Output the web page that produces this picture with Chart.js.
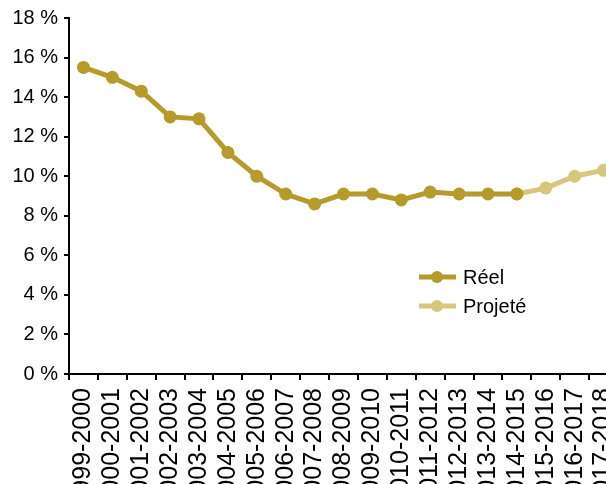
<!DOCTYPE html>
<html>
<head>
<meta charset="utf-8">
<script src="https://cdn.jsdelivr.net/npm/chart.js@4/dist/chart.umd.min.js"></script>
<style>
  html, body { margin: 0; padding: 0; background: #fff; overflow: hidden; }
  #wrap { width: 618px; height: 520px; }
</style>
</head>
<body>
<div id="wrap"><canvas id="chart" width="618" height="520"></canvas></div>
<script>
const years = ['1999-2000', '2000-2001', '2001-2002', '2002-2003', '2003-2004', '2004-2005',
    '2005-2006', '2006-2007', '2007-2008', '2008-2009', '2009-2010', '2010-2011',
    '2011-2012', '2012-2013', '2013-2014', '2014-2015', '2015-2016', '2016-2017', '2017-2018'];
const reel = [15.5, 15.0, 14.3, 13.0, 12.9, 11.2, 10.0, 9.1, 8.6, 9.1, 9.1, 8.8,
    9.2, 9.1, 9.1, 9.1, null, null, null];
const projete = [null, null, null, null, null, null, null, null, null, null, null, null,
    null, null, null, 9.1, 9.4, 10.0, 10.3];
const seriesNames = ['Réel', 'Projeté'];
const yTicks = [0, 2, 4, 6, 8, 10, 12, 14, 16, 18];

const sans = '"Liberation Sans", Arial, sans-serif';

// legend drawn inside the plot, like the original
const insideLegend = {
    id: 'insideLegend',
    afterDraw(chart) {
        const ctx = chart.ctx;
        chart.data.datasets.forEach((ds, i) => {
            const y = 277 + i * 29;
            ctx.save();
            ctx.strokeStyle = ds.borderColor;
            ctx.lineWidth = 5;
            ctx.beginPath();
            ctx.moveTo(419, y);
            ctx.lineTo(456, y);
            ctx.stroke();
            ctx.fillStyle = ds.backgroundColor;
            ctx.beginPath();
            ctx.arc(437, y, 6, 0, Math.PI * 2);
            ctx.fill();
            ctx.fillStyle = '#000';
            ctx.font = '20px ' + sans;
            ctx.textBaseline = 'middle';
            ctx.fillText(ds.label, 463, y + 1);
            ctx.restore();
        });
    }
};

new Chart(document.getElementById('chart'), {
    type: 'line',
    data: {
        labels: years,
        datasets: [
            {
                label: seriesNames[0],
                data: reel,
                borderColor: '#B49B2B',
                backgroundColor: '#B49B2B',
                borderWidth: 5,
                pointRadius: 6.5,
                pointBorderWidth: 0,
            },
            {
                label: seriesNames[1],
                data: projete,
                borderColor: '#D7C77B',
                backgroundColor: '#D7C77B',
                borderWidth: 5,
                pointRadius: 6.5,
                pointBorderWidth: 0,
            },
        ],
    },
    options: {
        responsive: false,
        animation: false,
        layout: { autoPadding: false, padding: { top: 18, right: 0, left: 0, bottom: 0 } },
        plugins: {
            legend: { display: false },
            tooltip: { enabled: false },
        },
        scales: {
            x: {
                offset: true,
                grid: { offset: true, drawOnChartArea: false, tickLength: 6, color: '#000', lineWidth: 2 },
                border: { color: '#000', width: 2 },
                ticks: {
                    minRotation: 90,
                    maxRotation: 90,
                    autoSkip: false,
                    padding: 8,
                    color: '#000',
                    font: { family: sans, size: 25 },
                },
                afterFit: scale => {
                    scale.height = 520 - 374;
                    scale.paddingLeft = 0;
                    scale.paddingRight = 0;
                },
            },
            y: {
                min: 0,
                max: 18,
                afterBuildTicks: scale => { scale.ticks = yTicks.map(v => ({ value: v })); },
                grid: { drawOnChartArea: false, tickLength: 5, color: '#000', lineWidth: 2 },
                border: { color: '#000', width: 2 },
                ticks: {
                    padding: 6,
                    color: '#000',
                    font: { family: sans, size: 20 },
                    callback: v => v + ' %',
                },
                afterFit: scale => { scale.width = 69; },
            },
        },
    },
    plugins: [insideLegend],
});
</script>
</body>
</html>
